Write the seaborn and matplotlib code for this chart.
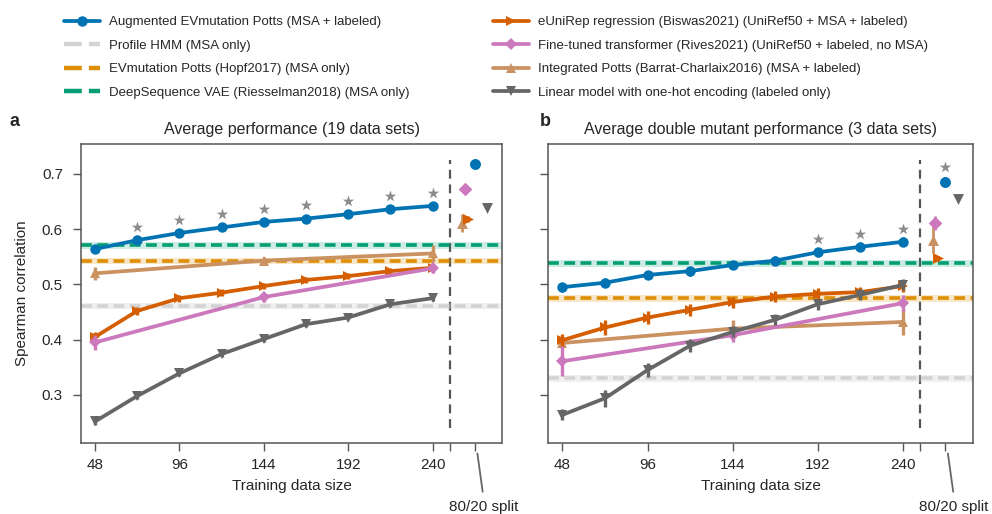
import matplotlib
matplotlib.use("Agg")
import matplotlib.pyplot as plt
import seaborn as sns
import pandas as pd
from matplotlib.lines import Line2D
from matplotlib import transforms

# ---------------- data ----------------
sizes = [48, 72, 96, 120, 144, 168, 192, 216, 240]
sizes_sparse = [48, 144, 240]
xtick_vals = [48, 96, 144, 192, 240]
split_x = 264
cutoff_x = 250

# Panel a: average performance (19 data sets)
aug_a = [0.564, 0.580, 0.593, 0.603, 0.613, 0.619, 0.627, 0.636, 0.642]
aug_a_err = [0.004] * 9
eunirep_a = [0.405, 0.452, 0.475, 0.485, 0.497, 0.508, 0.515, 0.524, 0.530]
eunirep_a_err = [0.008, 0.007, 0.006, 0.006, 0.006, 0.005, 0.005, 0.005, 0.005]
linear_a = [0.252, 0.298, 0.339, 0.374, 0.401, 0.428, 0.440, 0.464, 0.475]
linear_a_err = [0.006, 0.006, 0.005, 0.005, 0.005, 0.005, 0.005, 0.005, 0.005]
trans_a = [0.395, 0.477, 0.529]
trans_a_err = [0.013, 0.008, 0.008]
integ_a = [0.520, 0.543, 0.556]
integ_a_err = [0.012, 0.006, 0.016]
hmm_a, evm_a, vae_a = 0.461, 0.542, 0.571
split_a = {"aug": 0.718, "trans": 0.672, "linear": 0.639, "eunirep": 0.618, "integ": 0.611}
split_a_err = {"aug": 0.004, "trans": 0.005, "linear": 0.004, "eunirep": 0.005, "integ": 0.016}
stars_a = [72, 96, 120, 144, 168, 192, 216, 240]

# Panel b: average double mutant performance (3 data sets)
aug_b = [0.495, 0.503, 0.517, 0.524, 0.535, 0.543, 0.558, 0.568, 0.577]
aug_b_err = [0.008] * 9
eunirep_b = [0.399, 0.422, 0.440, 0.454, 0.468, 0.478, 0.483, 0.486, 0.497]
eunirep_b_err = [0.012, 0.013, 0.012, 0.011, 0.010, 0.010, 0.010, 0.010, 0.010]
linear_b = [0.264, 0.294, 0.345, 0.389, 0.414, 0.436, 0.464, 0.481, 0.499]
linear_b_err = [0.010, 0.015, 0.013, 0.012, 0.010, 0.010, 0.010, 0.010, 0.010]
trans_b = [0.361, 0.408, 0.466]
trans_b_err = [0.027, 0.012, 0.014]
integ_b = [0.394, 0.420, 0.432]
integ_b_err = [0.010, 0.015, 0.023]
hmm_b, evm_b, vae_b = 0.330, 0.475, 0.538
split_b = {"aug": 0.686, "trans": 0.611, "linear": 0.654, "eunirep": 0.547, "integ": 0.580}
split_b_err = {"aug": 0.008, "trans": 0.012, "linear": 0.004, "eunirep": 0.004, "integ": 0.023}
stars_b = [192, 216, 240, 264]

labels = [
    "Augmented EVmutation Potts (MSA + labeled)",
    "Profile HMM (MSA only)",
    "EVmutation Potts (Hopf2017) (MSA only)",
    "DeepSequence VAE (Riesselman2018) (MSA only)",
    "eUniRep regression (Biswas2021) (UniRef50 + MSA + labeled)",
    "Fine-tuned transformer (Rives2021) (UniRef50 + labeled, no MSA)",
    "Integrated Potts (Barrat-Charlaix2016) (MSA + labeled)",
    "Linear model with one-hot encoding (labeled only)",
]

# ---------------- style ----------------
C_AUG = "#0173B2"
C_HMM = "#D3D3D3"
C_EVM = "#DE8F05"
C_VAE = "#029E73"
C_EUNI = "#D55E00"
C_TRANS = "#CC78BC"
C_INT = "#CA9161"
C_LIN = "#666666"
C_SPINE = "#555555"

sns.set_theme(style="ticks")
plt.rcParams["font.family"] = ["Liberation Sans", "DejaVu Sans"]

fig = plt.figure(figsize=(9.92, 5.14), dpi=100)
W, H = 992, 514
ax_a = fig.add_axes([81 / W, 71 / H, 421 / W, 299 / H])
ax_b = fig.add_axes([548.3 / W, 71 / H, 424.4 / W, 299 / H])

LW = 2.7
MS = 7.5
DASH = (0, (3, 1.5))


def series(ax, x, y, err, color, marker, z, ms=MS):
    df = pd.DataFrame({"x": x, "y": y})
    sns.lineplot(data=df, x="x", y="y", ax=ax, color=color, marker=marker,
                 markersize=ms, linewidth=LW, markeredgewidth=0, zorder=z,
                 errorbar=None, legend=False)
    ax.errorbar(x, y, yerr=err, fmt="none", ecolor=color, elinewidth=2.4,
                capsize=0, zorder=z)


def point(ax, x, y, err, color, marker, z, s=62):
    ax.errorbar([x], [y], yerr=[err], fmt="none", ecolor=color, elinewidth=2.0,
                capsize=0, zorder=z)
    sns.scatterplot(x=[x], y=[y], ax=ax, color=color, marker=marker, s=s,
                    linewidth=0, zorder=z + 0.5, legend=False)


def panel(ax, d):
    for val, half, c, band_alpha in [(d["hmm"], 0.006, C_HMM, 0.35),
                                     (d["evm"], 0.006, C_EVM, 0.22),
                                     (d["vae"], 0.0065, C_VAE, 0.2)]:
        ax.axhspan(val - half, val + half, color=c, alpha=band_alpha, lw=0, zorder=1)
        ax.axhline(val, color=c, lw=2.6, ls=DASH, zorder=1.5)

    series(ax, sizes_sparse, d["integ"], d["integ_err"], C_INT, "^", 2)
    series(ax, sizes, d["eunirep"], d["eunirep_err"], C_EUNI, ">", 3)
    series(ax, sizes_sparse, d["trans"], d["trans_err"], C_TRANS, "D", 4, ms=6.5)
    series(ax, sizes, d["linear"], d["linear_err"], C_LIN, "v", 5)
    series(ax, sizes, d["aug"], d["aug_err"], C_AUG, "o", 6)

    sp, se = d["split"], d["split_err"]
    point(ax, split_x - 7, sp["integ"], se["integ"], C_INT, "^", 7)
    point(ax, split_x - 4, sp["eunirep"], se["eunirep"], C_EUNI, ">", 7)
    point(ax, split_x - 5.5, sp["trans"], se["trans"], C_TRANS, "D", 7, s=48)
    point(ax, split_x, sp["aug"], se["aug"], C_AUG, "o", 7)
    point(ax, split_x + 7, sp["linear"], se["linear"], C_LIN, "v", 7)

    star_y = []
    for sx in d["stars"]:
        if sx == split_x:
            star_y.append(sp["aug"] + 0.026)
        else:
            star_y.append(d["aug"][sizes.index(sx)] + 0.024)
    sns.scatterplot(x=d["stars"], y=star_y, ax=ax, marker="*", s=75,
                    color="#8C8C8C", linewidth=0, zorder=8, legend=False)

    ax.axvline(cutoff_x, ymin=0.05, ymax=0.945, color=C_SPINE, lw=1.6,
               ls=(0, (4, 2.6)), zorder=0.5)

    ax.set_xlim(40, 279.5)
    ax.set_ylim(0.213, 0.754)
    ax.set_xticks(xtick_vals + [cutoff_x, split_x])
    ax.set_xticklabels([str(v) for v in xtick_vals] + ["", ""])
    ax.set_yticks([0.3, 0.4, 0.5, 0.6, 0.7])
    ax.tick_params(axis="both", direction="out", length=6, width=1,
                   color=C_SPINE, labelsize=11)
    ax.tick_params(axis="y", pad=7)
    ax.tick_params(axis="x", pad=5)
    for sp_ in ax.spines.values():
        sp_.set_color(C_SPINE)
        sp_.set_linewidth(1.1)
        sp_.set_visible(True)
    ax.set_xlabel("Training data size", fontsize=11, labelpad=5)
    ax.set_ylabel("")

    # 80/20 split annotation
    trans_ = transforms.blended_transform_factory(ax.transData, ax.transAxes)
    ax.plot([split_x + 1.5, split_x + 4.5], [-0.035, -0.163], transform=trans_,
            color="#666666", lw=1.3, clip_on=False)
    ax.text(split_x + 5, -0.19, "80/20 split", transform=trans_, ha="center",
            va="top", fontsize=11)


panel(ax_a, dict(aug=aug_a, aug_err=aug_a_err, eunirep=eunirep_a, eunirep_err=eunirep_a_err,
                 linear=linear_a, linear_err=linear_a_err, trans=trans_a, trans_err=trans_a_err,
                 integ=integ_a, integ_err=integ_a_err, hmm=hmm_a, evm=evm_a, vae=vae_a,
                 split=split_a, split_err=split_a_err, stars=stars_a))
panel(ax_b, dict(aug=aug_b, aug_err=aug_b_err, eunirep=eunirep_b, eunirep_err=eunirep_b_err,
                 linear=linear_b, linear_err=linear_b_err, trans=trans_b, trans_err=trans_b_err,
                 integ=integ_b, integ_err=integ_b_err, hmm=hmm_b, evm=evm_b, vae=vae_b,
                 split=split_b, split_err=split_b_err, stars=stars_b))

ax_b.set_yticklabels([])
ax_a.set_ylabel("Spearman correlation", fontsize=11, labelpad=9)

ax_a.set_title("Average performance (19 data sets)", fontsize=11.5, pad=7)
ax_b.set_title("Average double mutant performance (3 data sets)", fontsize=11.5, pad=7)
fig.text(10 / W, 1 - 122 / H, "a", fontsize=13, fontweight="bold", va="center")
fig.text(540 / W, 1 - 122 / H, "b", fontsize=13, fontweight="bold", va="center")

# legends
h_left = [
    Line2D([], [], color=C_AUG, marker="o", lw=LW, ms=MS, mew=0),
    Line2D([], [], color=C_HMM, lw=3.2, ls=(0, (4, 1.6))),
    Line2D([], [], color=C_EVM, lw=3.2, ls=(0, (4, 1.6))),
    Line2D([], [], color=C_VAE, lw=3.2, ls=(0, (4, 1.6))),
]
h_right = [
    Line2D([], [], color=C_EUNI, marker=">", lw=LW, ms=MS, mew=0),
    Line2D([], [], color=C_TRANS, marker="D", lw=LW, ms=6.5, mew=0),
    Line2D([], [], color=C_INT, marker="^", lw=LW, ms=MS, mew=0),
    Line2D([], [], color=C_LIN, marker="v", lw=LW, ms=MS, mew=0),
]
common = dict(loc="upper left", frameon=False, fontsize=9.5, handlelength=2.7,
              labelspacing=0.85, borderpad=0, borderaxespad=0, handletextpad=0.7)
fig.legend(h_left, labels[:4], bbox_to_anchor=(64 / W, 1 - 16 / H), **common)
fig.legend(h_right, labels[4:], bbox_to_anchor=(493 / W, 1 - 16 / H), **common)

fig.savefig("out.png", dpi=100)
